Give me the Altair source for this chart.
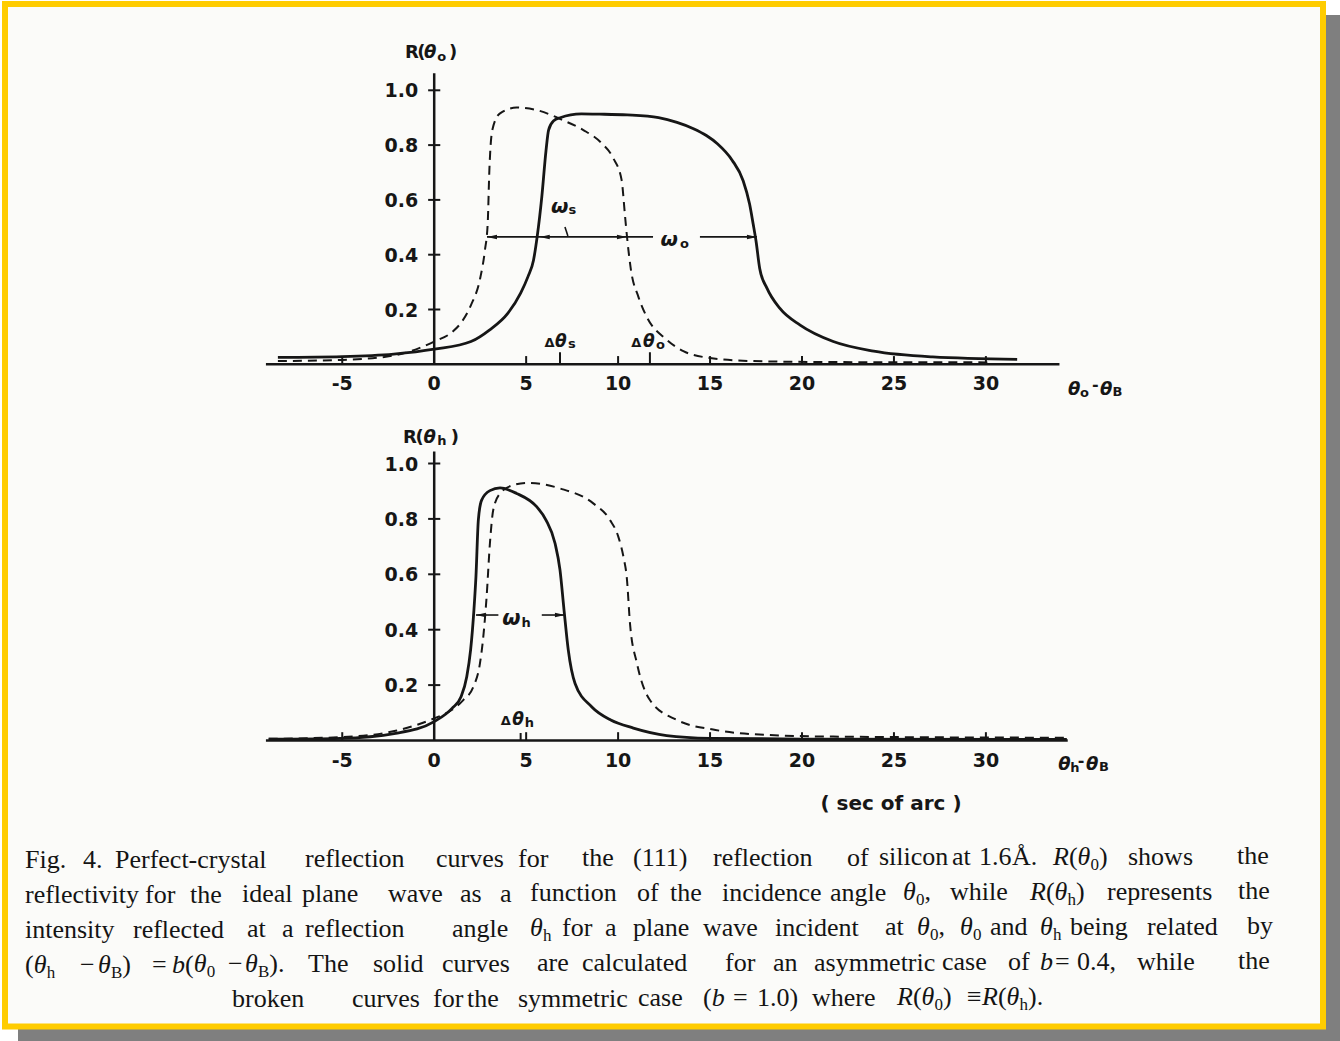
import re
import altair as alt
import pandas as pd

INK = "#161616"
SANS = "DejaVu Sans"
SERIF = "Liberation Serif"

# ---------------- data (angle offset in sec of arc, reflectivity) ----------------
x_ticks = [-5, 0, 5, 10, 15, 20, 25, 30]
x_tick_labels = ["-5", "0", "5", "10", "15", "20", "25", "30"]
y_ticks = [0.2, 0.4, 0.6, 0.8, 1.0]
y_tick_labels = ["0.2", "0.4", "0.6", "0.8", "1.0"]

# upper panel R(theta_o): asymmetric (solid, b = 0.4)
top_solid_v = [-8.5, -5, -2.2, 0, 2, 3, 4, 4.7, 5.1, 5.4, 5.6, 5.85, 6.08, 6.22, 6.5, 6.85, 8, 9,
               10.5, 12.2, 13.2, 14.1, 14.8, 15.4, 16.2, 16.8, 17.15, 17.35, 17.5, 17.7, 18.1,
               18.8, 19.9, 21.7, 23.9, 27.1, 31.7]
top_solid_r = [0.025, 0.028, 0.037, 0.055, 0.083, 0.125, 0.186, 0.26, 0.32, 0.38, 0.466, 0.61,
               0.78, 0.855, 0.889, 0.90, 0.914, 0.913, 0.91, 0.90, 0.883, 0.86, 0.835, 0.805,
               0.745, 0.67, 0.585, 0.51, 0.45, 0.35, 0.277, 0.204, 0.143, 0.083, 0.048, 0.027,
               0.018]
# upper panel: symmetric (broken, b = 1.0)
top_dash_v = [-8.5, -5, -2.2, 0, 1, 1.5, 2, 2.5, 2.76, 2.91, 3.0, 3.16, 3.58, 4.48, 5.57, 7.06,
              8.11, 9.1, 9.74, 10.19, 10.38, 10.52, 10.7, 11.1, 11.55, 12.64, 13.55, 15, 17.2,
              22, 30.4]
top_dash_r = [0.012, 0.016, 0.032, 0.083, 0.119, 0.155, 0.216, 0.314, 0.417, 0.515, 0.709,
              0.855, 0.916, 0.937, 0.928, 0.889, 0.855, 0.807, 0.752, 0.673, 0.539, 0.442,
              0.344, 0.247, 0.174, 0.09, 0.048, 0.023, 0.012, 0.008, 0.007]

# lower panel R(theta_h): asymmetric (solid)
bot_solid_v = [-9, -5.1, -2.1, 0, 0.97, 1.46, 1.77, 1.98, 2.16, 2.27, 2.4, 2.58, 3.03, 3.58,
               4.48, 5.57, 6.08, 6.57, 6.84, 7.06, 7.29, 7.66, 8.56, 9.6, 10.83, 12.64, 15, 20,
               34.4]
bot_solid_r = [0.005, 0.008, 0.026, 0.068, 0.116, 0.158, 0.23, 0.327, 0.471, 0.591, 0.796,
               0.868, 0.902, 0.912, 0.892, 0.844, 0.796, 0.712, 0.616, 0.471, 0.327, 0.206,
               0.122, 0.074, 0.045, 0.018, 0.008, 0.005, 0.004]
# lower panel: symmetric (broken)
bot_dash_v = [-9, -5.1, -2.1, 0, 0.95, 1.58, 2.13, 2.49, 2.67, 2.85, 3.03, 3.21, 3.58, 4.3,
              5.03, 6.84, 8.65, 9.56, 10.01, 10.3, 10.47, 10.65, 11.02, 11.73, 13.2, 15.3, 18.1,
              21.7, 34.4]
bot_dash_r = [0.006, 0.012, 0.035, 0.08, 0.11, 0.146, 0.194, 0.279, 0.375, 0.519, 0.712, 0.832,
              0.892, 0.922, 0.93, 0.91, 0.856, 0.796, 0.736, 0.66, 0.59, 0.42, 0.28, 0.146,
              0.074, 0.038, 0.02, 0.014, 0.01]

caption_lines = [
    [("Fig.", 25), ("4.", 83), ("Perfect-crystal", 115), ("reflection", 305), ("curves", 436),
     ("for", 518), ("the", 582), ("(111)", 633), ("reflection", 713), ("of", 847),
     ("silicon", 879), ("at", 952), ("1.6", 979), ("Å.", 1012),
     ("{i:R}({i:θ}{s:0})", 1053), ("shows", 1128), ("the", 1237)],
    [("reflectivity", 25), ("for", 145), ("the", 190), ("ideal", 242), ("plane", 302),
     ("wave", 388), ("as", 460), ("a", 500), ("function", 530), ("of", 637), ("the", 670),
     ("incidence", 722), ("angle", 830), ("{i:θ}{s:0},", 903), ("while", 950),
     ("{i:R}({i:θ}{s:h})", 1030), ("represents", 1107), ("the", 1238)],
    [("intensity", 25), ("reflected", 133), ("at", 247), ("a", 282), ("reflection", 305),
     ("angle", 452), ("{i:θ}{s:h}", 530), ("for", 562), ("a", 605), ("plane", 633),
     ("wave", 703), ("incident", 775), ("at", 885), ("{i:θ}{s:0},", 917), ("{i:θ}{s:0}", 960),
     ("and", 990), ("{i:θ}{s:h}", 1040), ("being", 1070), ("related", 1147), ("by", 1247)],
    [("({i:θ}{s:h}", 25), ("−", 80), ("{i:θ}{s:B})", 98), ("=", 152), ("{i:b}({i:θ}{s:0}", 172),
     ("−", 228), ("{i:θ}{s:B}).", 245), ("The", 308), ("solid", 373), ("curves", 442),
     ("are", 537), ("calculated", 582), ("for", 725), ("an", 773), ("asymmetric", 814),
     ("case", 942), ("of", 1008), ("{i:b}", 1040), ("=", 1055), ("0.4,", 1077),
     ("while", 1137), ("the", 1238)],
    [("broken", 232), ("curves", 352), ("for", 433), ("the", 467), ("symmetric", 518),
     ("case", 638), ("({i:b}", 703), ("=", 733), ("1.0)", 757), ("where", 812),
     ("{i:R}({i:θ}{s:0})", 897), ("≡", 967), ("{i:R}({i:θ}{s:h}).", 982)],
]
caption_baselines = [868, 903, 938, 973, 1008]

# ---------------- scales (shared x, one y per panel) ----------------
XS = alt.Scale(domain=[0, 30], range=[434.2, 985.9], nice=False, zero=False)
YT = alt.Scale(domain=[0, 1], range=[364.3, 90.3], nice=False, zero=False)
YB = alt.Scale(domain=[0, 1], range=[740.5, 463.5], nice=False, zero=False)

LEFT_HEAD = "M0,0L2,-0.45L2,0.45Z"
RIGHT_HEAD = "M0,0L-2,-0.45L-2,0.45Z"


def panel(Y, sv, sr, dv, dr, segs, heads, roman, italic, centered=None):
    X = lambda f: alt.X(f, scale=XS, axis=None)
    Yf = lambda f: alt.Y(f, scale=Y, axis=None)
    layers = []
    layers.append(alt.Chart(pd.DataFrame({"v": dv, "r": dr})).mark_line(
        color=INK, strokeWidth=2.0, strokeDash=[9, 6], interpolate="monotone").encode(
        x=X("v:Q"), y=Yf("r:Q")))
    layers.append(alt.Chart(pd.DataFrame({"v": sv, "r": sr})).mark_line(
        color=INK, strokeWidth=2.8, interpolate="monotone").encode(
        x=X("v:Q"), y=Yf("r:Q")))
    layers.append(alt.Chart(pd.DataFrame(segs, columns=["v", "r", "v2", "r2", "w"])).mark_rule(
        color=INK, strokeCap="butt").encode(
        x=X("v:Q"), x2="v2:Q", y=Yf("r:Q"), y2="r2:Q",
        strokeWidth=alt.StrokeWidth("w:Q", scale=None)))
    layers.append(alt.Chart(pd.DataFrame(heads, columns=["v", "r", "shape"])).mark_point(
        filled=True, color=INK, size=100, opacity=1).encode(
        x=X("v:Q"), y=Yf("r:Q"), shape=alt.Shape("shape:N", scale=None)))
    # tick labels
    layers.append(alt.Chart(pd.DataFrame({"v": x_ticks, "t": x_tick_labels})).mark_text(
        font=SANS, fontWeight="bold", fontSize=19, dy=20, baseline="middle", align="center",
        color=INK).encode(x=X("v:Q"), y=alt.YDatum(0, scale=Y, axis=None), text="t:N"))
    layers.append(alt.Chart(pd.DataFrame({"r": y_ticks, "t": y_tick_labels})).mark_text(
        font=SANS, fontWeight="bold", fontSize=19, dx=-16, dy=1, baseline="middle",
        align="right", color=INK).encode(
        x=alt.XDatum(0, scale=XS, axis=None), y=Yf("r:Q"), text="t:N"))
    for rows, style in ((roman, "normal"), (italic, "italic")):
        layers.append(alt.Chart(pd.DataFrame(rows, columns=["t", "v", "r", "s"])).mark_text(
            font=SANS, fontWeight="bold", fontStyle=style, align="left",
            baseline="alphabetic", color=INK).encode(
            x=X("v:Q"), y=Yf("r:Q"), text="t:N", size=alt.Size("s:Q", scale=None)))
    if centered:
        layers.append(alt.Chart(pd.DataFrame(centered, columns=["t", "v", "r", "s"])).mark_text(
            font=SANS, fontWeight="bold", align="center", baseline="alphabetic",
            color=INK).encode(
            x=X("v:Q"), y=Yf("r:Q"), text="t:N", size=alt.Size("s:Q", scale=None)))
    return alt.layer(*layers)


def axis_segments(x_end, y_top, extra):
    segs = [(-9.15, 0, x_end, 0, 2.5), (0, 0, 0, y_top, 2.5)]
    for t in x_ticks:
        if t != 0:
            segs.append((t, 0, t, 0.03, 2.0))
    for t in y_ticks:
        segs.append((-0.33, t, 0.33, t, 2.0))
    return segs + extra


# ---- upper panel ----
top_segs = axis_segments(34.0, 1.062, [
    (2.87, 0.465, 11.9, 0.465, 1.6), (14.45, 0.465, 17.55, 0.465, 1.6),   # w_s / w_o arrows
    (7.11, 0.501, 7.27, 0.468, 1.6),                                     # w_s leader
    (6.84, 0, 6.84, 0.044, 2.0), (11.73, 0, 11.73, 0.044, 2.0),          # delta-theta marks
])
top_heads = [(2.87, 0.465, LEFT_HEAD), (5.74, 0.465, LEFT_HEAD),
             (10.48, 0.465, RIGHT_HEAD), (17.55, 0.465, RIGHT_HEAD)]
top_roman = [("R", -1.59, 1.118, 18), ("(", -0.92, 1.118, 18), (")", 0.80, 1.118, 18),
             ("o", 0.17, 1.108, 13),
             ("s", 7.30, 0.549, 13), ("o", 13.37, 0.425, 13),
             ("Δ", 6.0, 0.063, 13), ("s", 7.27, 0.058, 13),
             ("Δ", 10.72, 0.063, 13), ("o", 12.06, 0.055, 13),
             ("o", 35.12, -0.119, 13), ("-", 35.77, -0.094, 16), ("B", 36.88, -0.115, 13)]
top_italic = [("θ", -0.55, 1.118, 18), ("ω", 6.35, 0.552, 20), ("ω", 12.3, 0.432, 20),
              ("θ", 6.57, 0.063, 17), ("θ", 11.35, 0.063, 17),
              ("θ", 34.46, -0.112, 18), ("θ", 36.2, -0.112, 18)]
top = panel(YT, top_solid_v, top_solid_r, top_dash_v, top_dash_r, top_segs, top_heads,
            top_roman, top_italic)

# ---- lower panel ----
bot_segs = axis_segments(34.45, 1.043, [
    (2.27, 0.453, 3.49, 0.453, 1.6), (5.85, 0.453, 7.11, 0.453, 1.6),
    (4.7, 0, 4.7, 0.027, 2.0),
])
bot_heads = [(2.27, 0.453, LEFT_HEAD), (7.11, 0.453, RIGHT_HEAD)]
bot_roman = [("R", -1.70, 1.074, 18), ("(", -1.02, 1.074, 18), (")", 0.90, 1.074, 18),
             ("h", 0.17, 1.067, 13),
             ("h", 4.75, 0.41, 13), ("Δ", 3.62, 0.056, 13), ("h", 4.92, 0.049, 13),
             ("h", 34.58, -0.113, 13), ("-", 35.0, -0.092, 16), ("B", 36.15, -0.11, 13)]
bot_italic = [("θ", -0.58, 1.074, 18), ("ω", 3.7, 0.417, 21), ("θ", 4.25, 0.056, 17),
              ("θ", 33.93, -0.106, 18), ("θ", 35.44, -0.106, 18)]
bot_center = [("( sec  of  arc )", 24.84, -0.251, 20)]
bottom = panel(YB, bot_solid_v, bot_solid_r, bot_dash_v, bot_dash_r, bot_segs, bot_heads,
               bot_roman, bot_italic, bot_center)

# ---------------- caption (justified words, mixed roman / italic / subscript) ----------------
W_ROMAN = {"(": 0.333, ")": 0.333, "−": 0.564, "=": 0.564, ",": 0.25, ".": 0.25, "≡": 0.564}
W_ITAL = {"R": 0.611, "θ": 0.5, "b": 0.5}
W_SUB = {"0": 0.5, "h": 0.5, "B": 0.667}
CAP_SIZE, SUB_SIZE = 26, 17

cap_rows = []
for line, base in zip(caption_lines, caption_baselines):
    for markup, x0 in line:
        x = float(x0)
        for style, inner, plain in re.findall(r"\{([is]):([^}]*)\}|([^{]+)", markup):
            text = inner if style else plain
            st = style or "r"
            y = base - 0.003 * (x - 25)
            if st == "s":
                size, y, table = SUB_SIZE, y + 5, W_SUB
            elif st == "i":
                size, table = CAP_SIZE, W_ITAL
            else:
                size, table = CAP_SIZE, W_ROMAN
            cap_rows.append({"t": text, "x": x, "y": y, "s": size,
                             "it": "italic" if st == "i" else "normal"})
            x += sum(table.get(c, 0.5) for c in text) * size
cap_df = pd.DataFrame(cap_rows)


def cap_layer(style):
    return alt.Chart(cap_df[cap_df["it"] == style]).mark_text(
        font=SERIF, fontStyle=style, align="left", baseline="alphabetic", color="#141414").encode(
        x=alt.X("x:Q", scale=None, axis=None), y=alt.Y("y:Q", scale=None, axis=None),
        text="t:N", size=alt.Size("s:Q", scale=None))


# ---------------- page frame ----------------
one = pd.DataFrame({"k": [0]})
shadow = alt.Chart(one).mark_rect(color="#7f7f7f").encode(
    x=alt.value(18), x2=alt.value(1340), y=alt.value(15), y2=alt.value(1041))
frame = alt.Chart(one).mark_rect(fill="#fbfbf9", stroke="#ffcc00", strokeWidth=6).encode(
    x=alt.value(5), x2=alt.value(1323), y=alt.value(4), y2=alt.value(1026.5))

chart = alt.layer(shadow, frame, top, bottom, cap_layer("normal"), cap_layer("italic")).resolve_scale(
    x="independent", y="independent"
).properties(
    width=1340, height=1041, padding=0, background="white",
    autosize=alt.AutoSizeParams(type="none"),
).configure_view(stroke=None)

chart.save("out.html", embed_options={"renderer": "svg", "actions": False})
